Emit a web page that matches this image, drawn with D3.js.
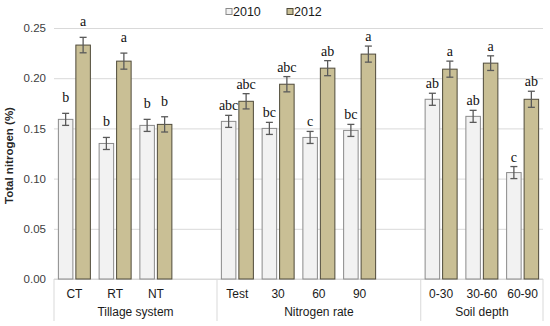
<!DOCTYPE html>
<html>
<head>
<meta charset="utf-8">
<script src="https://cdn.jsdelivr.net/npm/d3@7"></script>
<style>
  body { margin: 0; background: #fff; }
  svg { display: block; }
</style>
</head>
<body>
<div id="container"></div>
<script>
/* CONSTANTS AND GLOBALS */
const width = 550,
  height = 326,
  margin = { top: 28, left: 54, bottom: 47, right: 7 };

// DATA
const years = ["2010", "2012"];
const groups = ["Tillage system", "Nitrogen rate", "Soil depth"];
// slots on the x axis, blank ones are the empty gaps between groups
const slots = ["CT", "RT", "NT", "", "Test", "30", "60", "90", " ", "0-30", "30-60", "60-90"];
const categories = ["CT", "RT", "NT", "Test", "30", "60", "90", "0-30", "30-60", "60-90"];
const values2010 = [0.159, 0.135, 0.153, 0.157, 0.150, 0.141, 0.148, 0.179, 0.162, 0.106];
const values2012 = [0.233, 0.217, 0.154, 0.177, 0.194, 0.210, 0.224, 0.209, 0.215, 0.179];
const err2010 = [0.006, 0.006, 0.006, 0.006, 0.006, 0.006, 0.006, 0.006, 0.006, 0.006];
const err2012 = [0.0077, 0.008, 0.0076, 0.0076, 0.0076, 0.0075, 0.008, 0.008, 0.0073, 0.008];
const letters2010 = ["b", "b", "b", "abc", "bc", "c", "bc", "ab", "ab", "c"];
const letters2012 = ["a", "a", "b", "abc", "abc", "ab", "a", "a", "a", "ab"];
const yTicks = [0, 0.05, 0.10, 0.15, 0.20, 0.25];

const colors = { "2010": "#f2f2f2", "2012": "#c9bf95" };
const strokes = { "2010": "#8a8a8a", "2012": "#4f4a3a" };

// rows for bars
const rows = [];
categories.forEach((c, i) => {
  rows.push({ cat: c, year: "2010", value: values2010[i], err: err2010[i], letter: letters2010[i] });
  rows.push({ cat: c, year: "2012", value: values2012[i], err: err2012[i], letter: letters2012[i] });
});

/* SCALES */
const xScale = d3.scaleBand()
  .domain(slots)
  .range([margin.left, width - margin.right])
  .padding(0);

const xInner = d3.scaleBand()
  .domain(years)
  .range([0, xScale.bandwidth()])
  .paddingInner(0.17)
  .paddingOuter(0.25);

const yScale = d3.scaleLinear()
  .domain([0, 0.25])
  .range([height - margin.bottom, margin.top]);

/* SVG */
const svg = d3.select("#container")
  .append("svg")
  .attr("width", width)
  .attr("height", height);

// gridlines + y tick labels
const yAxis = d3.axisLeft(yScale)
  .tickValues(yTicks)
  .tickFormat(d3.format(".2f"))
  .tickSize(-(width - margin.left - margin.right))
  .tickPadding(8);

svg.append("g")
  .attr("class", "y-axis")
  .attr("transform", `translate(${margin.left},0)`)
  .call(yAxis)
  .call(g => g.select(".domain").remove())
  .call(g => g.selectAll(".tick line").attr("stroke", "#d9d9d9"))
  .call(g => g.selectAll(".tick text")
    .attr("fill", "#404040")
    .style("font", "11.5px 'Liberation Sans', Arial, sans-serif"));

// y title
svg.append("text")
  .attr("transform", `translate(13,${(margin.top + height - margin.bottom) / 2 + 2}) rotate(-90)`)
  .attr("text-anchor", "middle")
  .attr("fill", "#262626")
  .style("font", "bold 11.5px 'Liberation Sans', Arial, sans-serif")
  .text("Total nitrogen (%)");

// bottom axis line
const y0 = yScale(0);
svg.append("line")
  .attr("x1", margin.left).attr("x2", width - margin.right)
  .attr("y1", y0).attr("y2", y0)
  .attr("stroke", "#d9d9d9");

// group separators (left edge, start of each group, right edge)
const groupEdges = [margin.left, xScale("Test"), xScale("0-30"), width - margin.right];
svg.selectAll(".sep")
  .data(groupEdges)
  .join("line")
  .attr("class", "sep")
  .attr("x1", d => d).attr("x2", d => d)
  .attr("y1", y0).attr("y2", y0 + 42)
  .attr("stroke", "#d9d9d9");

// category labels
svg.selectAll(".cat")
  .data(categories)
  .join("text")
  .attr("class", "cat")
  .attr("x", d => xScale(d) + xScale.bandwidth() / 2)
  .attr("y", y0 + 19)
  .attr("text-anchor", "middle")
  .attr("fill", "#1a1a1a")
  .style("font", "12px 'Liberation Sans', Arial, sans-serif")
  .text(d => d);

// group labels, centred between the separators
svg.selectAll(".grp")
  .data(groups)
  .join("text")
  .attr("class", "grp")
  .attr("x", (d, i) => (groupEdges[i] + groupEdges[i + 1]) / 2)
  .attr("y", y0 + 37)
  .attr("text-anchor", "middle")
  .attr("fill", "#1a1a1a")
  .style("font", "12px 'Liberation Sans', Arial, sans-serif")
  .text(d => d);

// BARS
const barX = d => xScale(d.cat) + xInner(d.year);
svg.selectAll(".bar")
  .data(rows)
  .join("rect")
  .attr("class", "bar")
  .attr("x", d => barX(d))
  .attr("y", d => yScale(d.value))
  .attr("width", xInner.bandwidth())
  .attr("height", d => y0 - yScale(d.value))
  .attr("fill", d => colors[d.year])
  .attr("stroke", d => strokes[d.year])
  .attr("stroke-width", 1);

// ERROR BARS
const cx = d => barX(d) + xInner.bandwidth() / 2;
const eb = svg.selectAll(".err")
  .data(rows)
  .join("g")
  .attr("class", "err")
  .attr("stroke", "#5a5a5a")
  .attr("stroke-width", 1.3);
eb.append("line")
  .attr("x1", cx).attr("x2", cx)
  .attr("y1", d => yScale(d.value + d.err))
  .attr("y2", d => yScale(d.value - d.err));
eb.append("line")
  .attr("x1", d => cx(d) - 3.5).attr("x2", d => cx(d) + 3.5)
  .attr("y1", d => yScale(d.value + d.err))
  .attr("y2", d => yScale(d.value + d.err));
eb.append("line")
  .attr("x1", d => cx(d) - 3.5).attr("x2", d => cx(d) + 3.5)
  .attr("y1", d => yScale(d.value - d.err))
  .attr("y2", d => yScale(d.value - d.err));

// SIGNIFICANCE LETTERS (tillage letters sit a bit higher in the original)
const tillage = ["CT", "RT", "NT"];
svg.selectAll(".letter")
  .data(rows)
  .join("text")
  .attr("class", "letter")
  .attr("x", cx)
  .attr("y", d => yScale(d.value + d.err) - (tillage.includes(d.cat) ? 11 : 5))
  .attr("text-anchor", "middle")
  .attr("fill", "#111")
  .style("font", "14px 'Liberation Serif', 'Times New Roman', serif")
  .text(d => d.letter);

// LEGEND
const legend = svg.append("g").attr("class", "legend");
const legX = [226, 287];
years.forEach((y, i) => {
  legend.append("rect")
    .attr("x", legX[i]).attr("y", 8.5)
    .attr("width", 6).attr("height", 6)
    .attr("fill", colors[y])
    .attr("stroke", strokes[y]);
  legend.append("text")
    .attr("x", legX[i] + 7)
    .attr("y", 16)
    .attr("fill", "#1a1a1a")
    .style("font", "12.5px 'Liberation Sans', Arial, sans-serif")
    .text(y);
});
</script>
</body>
</html>
